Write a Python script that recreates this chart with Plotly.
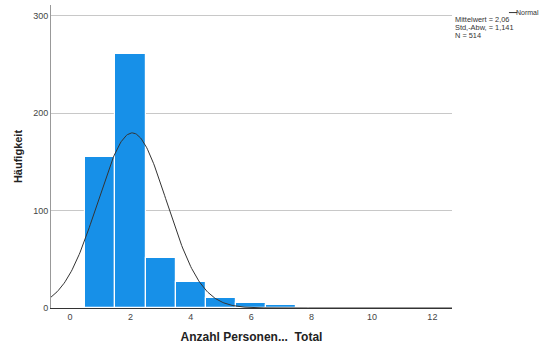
import numpy as np
import plotly.graph_objects as go

# Frequency table of household size
persons = [1, 2, 3, 4, 5, 6, 7, 8, 9, 10]
counts = [155, 261, 51, 27, 10, 5, 3, 0, 1, 1]

mean_val = 2.06
std_val = 1.141
n_total = 514

x_range = [-0.63, 12.65]
y_range = [0, 311]
y_ticks = [0, 100, 200, 300]
x_ticks = [0, 2, 4, 6, 8, 10, 12]

# Fitted normal curve scaled to counts (bin width 1)
xs = np.linspace(x_range[0], x_range[1], 400)
ys = n_total / (std_val * np.sqrt(2 * np.pi)) * np.exp(-0.5 * ((xs - mean_val) / std_val) ** 2)

fig = go.Figure()
fig.add_trace(go.Bar(
    x=persons, y=counts, width=1,
    marker=dict(color="#1790E8", line=dict(color="white", width=1.2)),
    showlegend=False,
))
fig.add_trace(go.Scatter(
    x=xs, y=ys, mode="lines",
    line=dict(color="#333333", width=1),
    showlegend=False,
))

font_family = "Liberation Sans, Arial, sans-serif"

fig.update_layout(
    width=542, height=347,
    margin=dict(l=51, r=90, t=5, b=39),
    paper_bgcolor="white", plot_bgcolor="white",
    font=dict(family=font_family, size=9, color="#444444"),
    bargap=0,
    xaxis=dict(
        range=x_range, tickvals=x_ticks, ticks="", showgrid=False,
        zeroline=False, showline=True, linecolor="#333333", linewidth=1,
        tickfont=dict(size=9, color="#444444"),
        title=dict(text="<b>Anzahl Personen...  Total</b>",
                   font=dict(size=12, color="#222222"), standoff=11),
    ),
    yaxis=dict(
        range=y_range, tickvals=y_ticks, ticks="", showgrid=True,
        gridcolor="#C8C8C8", gridwidth=1, zeroline=False,
        showline=True, linecolor="#999999", linewidth=1,
        tickfont=dict(size=9, color="#444444"),
        title=dict(text="<b>Häufigkeit</b>",
                   font=dict(size=11, color="#222222"), standoff=8),
    ),
)

# Legend entry for the normal curve and the summary statistics
fig.add_annotation(xref="paper", yref="paper", x=1.2195, y=0.975,
                   text="Normal", showarrow=False, xanchor="right", yanchor="middle",
                   borderpad=0, font=dict(size=7, color="#333333"))
fig.add_shape(type="line", xref="paper", yref="paper",
              x0=1.142, x1=1.163, y0=0.975, y1=0.975,
              line=dict(color="#333333", width=1))
stats_lines = [
    f"Mittelwert = {mean_val:.2f}".replace(".", ","),
    f"Std.-Abw. = {std_val:.3f}".replace(".", ","),
    f"N = {n_total}",
]
for i, line in enumerate(stats_lines):
    fig.add_annotation(xref="paper", yref="paper", x=1.003, y=0.953 - 0.0265 * i,
                       text=line, showarrow=False, xanchor="left", yanchor="middle",
                       font=dict(size=7.4, color="#333333"))

fig.write_html("out.html")
